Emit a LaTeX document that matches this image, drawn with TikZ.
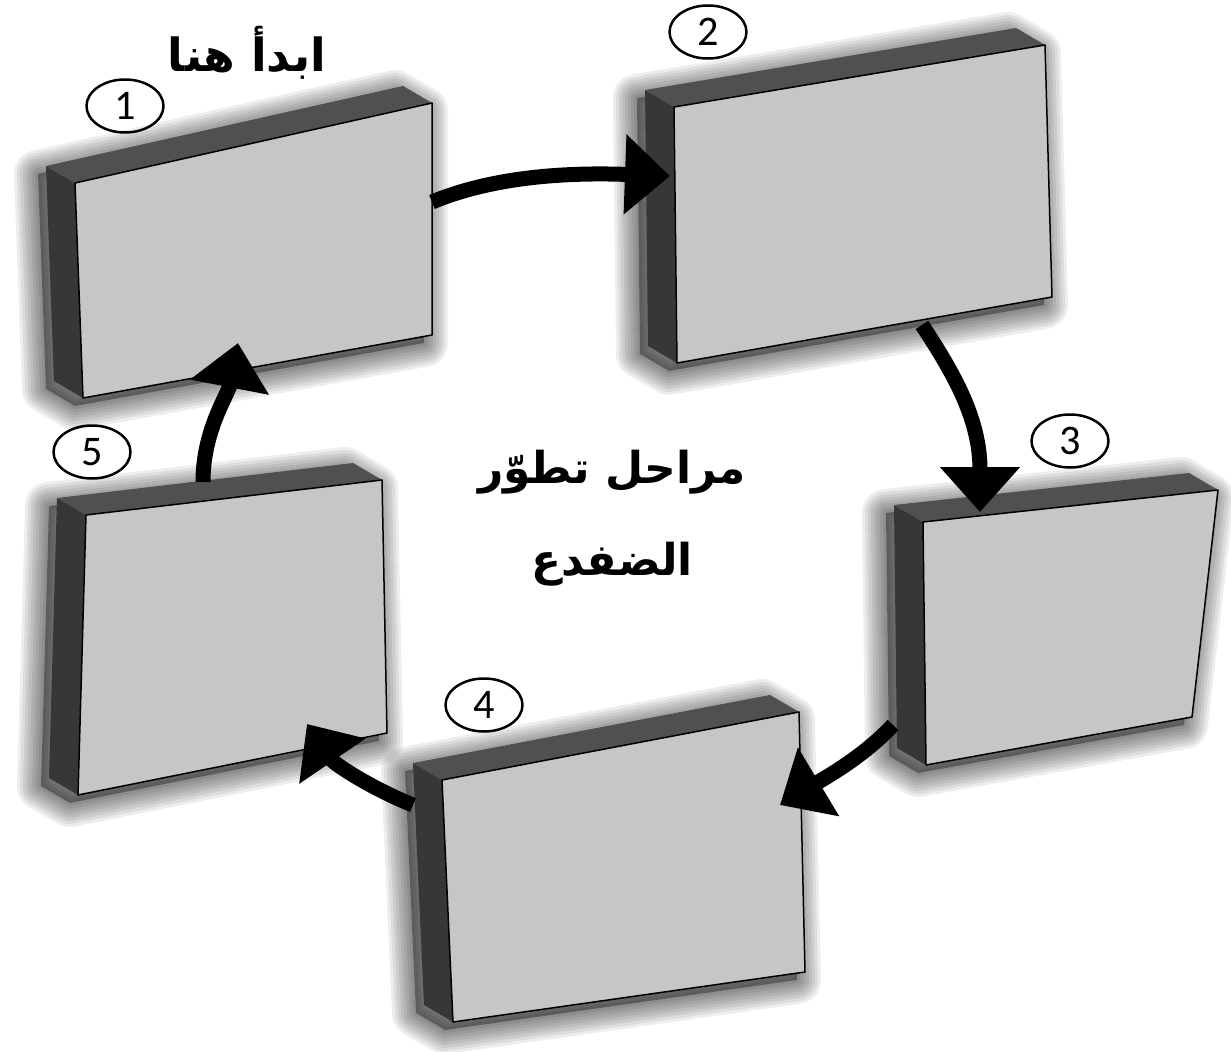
\documentclass[tikz,border=0pt]{standalone}
\usepackage{fontspec}
\usepackage{tikz}
\usetikzlibrary{arrows.meta,shapes.geometric}
\newfontfamily\arabicfont[Script=Arabic]{DejaVu Sans}
\newfontfamily\numfont{Carlito}
\TeXXeTstate=1
\definecolor{cardface}{RGB}{198, 198, 198}
\definecolor{cardside}{RGB}{55, 55, 55}
\definecolor{cardtop}{RGB}{80, 80, 80}
\def\dx{-29}
\def\dy{-17}

\newcommand{\stagecard}[5]{%
  \coordinate (#1tl) at (#2);
  \coordinate (#1tr) at (#3);
  \coordinate (#1br) at (#4);
  \coordinate (#1bl) at (#5);
  \path (#1tl) ++(\dx,\dy) coordinate (#1btl);
  \path (#1tr) ++(\dx,\dy) coordinate (#1btr);
  \path (#1bl) ++(\dx,\dy) coordinate (#1bbl);
  \fill[cardshadow, opacity=0.35] (#1btl) -- (#1btr) -- (#1tr) -- (#1br) -- (#1bl) -- (#1bbl) -- cycle;
  \foreach \w in {6,12,...,48}
    \draw[cardshadow, opacity=0.07, line width=\w*0.2mm]
    (#1btl) -- (#1btr) -- (#1tr) -- (#1br) -- (#1bl) -- (#1bbl) -- cycle;
  \fill[cardside] (#1btl) -- (#1tl) -- (#1bl) -- (#1bbl) -- cycle;
  \fill[cardtop] (#1btl) -- (#1btr) -- (#1tr) -- (#1tl) -- cycle;
  \filldraw[fill=cardface, draw=black, line width=0.3mm] (#1tl) -- (#1tr) -- (#1br) -- (#1bl) -- cycle;
}

\begin{document}
\begin{tikzpicture}[x=0.2mm, y=-0.2mm, line join=round,
    cardshadow/.style={black, line join=round, transform canvas={xshift=-1.6mm, yshift=-1.6mm}},
    stagenum/.style={ellipse, draw, line width=0.5mm, minimum width=15.4mm, minimum height=10.6mm,
      inner sep=0pt, font=\numfont\fontsize{24}{24}\selectfont},
    cyclearrow/.style={line width=3mm, -{Triangle[width=15.5mm, length=9mm]}}]

                 \useasboundingbox (0, 0) rectangle (1231, 1052);

                 \stagecard{c1}{75,183}{432,103}{432,335}{83,398}
                 \stagecard{c2}{674,107}{1045,45}{1052,297}{677,363}
                 \stagecard{c3}{923,522}{1218,490}{1192,717}{926,765}
                 \stagecard{c4}{442,780}{799,712}{805,972}{453,1022}
                 \stagecard{c5}{86,515}{382,480}{387,733}{78,795}

                 \node[stagenum] (n1) at (125, 106) {1};
                 \node[stagenum] (n2) at (708, 32) {2};
                 \node[stagenum] (n3) at (1070, 441) {3};
                 \node[stagenum] (n4) at (484, 705) {4};
                 \node[stagenum] (n5) at (92, 452) {5};

                 \node[font=\arabicfont\bfseries\fontsize{26}{26}\selectfont] (start) at (247, 53)
                 {\beginR ابدأ هنا\endR};
                 \node[font=\arabicfont\bfseries\fontsize{25}{52}\selectfont, align=center] (title) at (612, 518)
                 {\beginR مراحل تطوّر\endR\\\beginR الضفدع\endR};

                 \coordinate (a12) at (432, 202);
                 \coordinate (a23) at (922, 325);
                 \coordinate (a34) at (893, 725);
                 \coordinate (a45) at (413, 805);
                 \coordinate (a51) at (203, 482);

                 \draw[cyclearrow] (a12) .. controls (490, 178) and (560, 172) .. (670, 176);
                 \draw[cyclearrow] (a23) .. controls (955, 375) and (980, 420) .. (980, 512);
                 \draw[cyclearrow] (a34) .. controls (865, 755) and (830, 775) .. (780, 805);
                 \draw[cyclearrow] (a45) .. controls (375, 790) and (335, 765) .. (307, 724);
                 \draw[cyclearrow] (a51) .. controls (203, 430) and (228, 395) .. (238, 343);

\end{tikzpicture}
\end{document}
